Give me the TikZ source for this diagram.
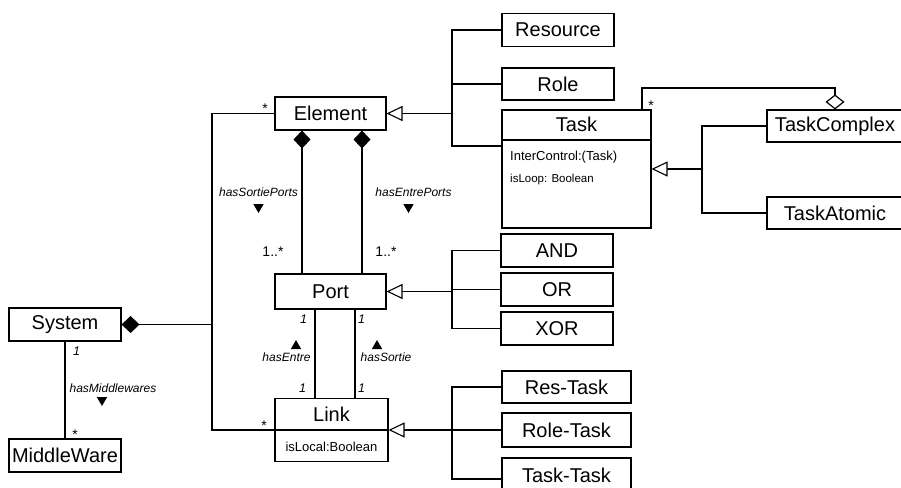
\documentclass[tikz,border=0pt]{standalone}
\usepackage{fontspec}
\setmainfont{Liberation Sans}
\usetikzlibrary{arrows.meta,shapes.geometric,calc}
\newcommand\ftitle{\fontsize{20}{24}\selectfont}
\begin{document}
\begin{tikzpicture}[x=1pt,y=-1pt,
  box/.style={draw, line width=1.1pt, inner sep=0pt, font=\ftitle, minimum height=33pt},
  txt/.style={inner sep=0pt, font=\ftitle},
  conn/.style={line width=1.8pt},
  gen/.style={conn, -{Triangle[length=16pt, width=15pt, line width=1.1pt, fill=white]}},
  comp/.style={conn, {Diamond[length=18pt, width=17pt]}-},
  agg/.style={conn, -{Diamond[length=15pt, width=19pt, line width=1.2pt, fill=white]}},
  lbl/.style={font=\fontsize{12}{14}\selectfont\itshape, inner sep=0pt},
  mult/.style={font=\fontsize{14}{16}\selectfont, inner sep=0pt},
  multi/.style={font=\fontsize{12.5}{14}\selectfont\itshape, inner sep=0pt},
  attr/.style={inner sep=0pt, font=\fontsize{13}{15}\selectfont},
  down/.style={regular polygon, regular polygon sides=3, shape border rotate=180, fill=black, inner sep=0pt, minimum size=12pt},
  up/.style={regular polygon, regular polygon sides=3, fill=black, inner sep=0pt, minimum size=12pt},
]
\clip (0,0) rectangle (901,487);
\fill[white] (0,0) rectangle (901,487);

% boxes
\node[box, minimum width=111pt] (element) at (330.5,113.5) {Element};
\node[box, minimum width=112pt] (res) at (558,30) {Resource};
\node[box, minimum width=112pt, minimum height=32pt] (role) at (558,84) {Role};
\node[box, minimum width=149pt, minimum height=118pt] (task) at (576.5,169) {};
\node[txt] (tasktitle) at (576.5,124) {Task};
\node[attr, anchor=west] (taskattr1) at (510,157) {InterControl:(Task)};
\node[attr, anchor=west, font=\fontsize{11.5}{13}\selectfont] (taskattr2) at (510,180) {isLoop: Boolean};
\node[box, minimum width=136pt, minimum height=32pt] (tc) at (835,126) {TaskComplex};
\node[box, minimum width=136pt, minimum height=32pt] (ta) at (835,213) {TaskAtomic};
\node[box, minimum width=111pt, minimum height=35pt] (port) at (330.5,291.5) {Port};
\node[box, minimum width=112pt] (and) at (557,250.5) {AND};
\node[box, minimum width=112pt] (or) at (557,289.5) {OR};
\node[box, minimum width=112pt] (xor) at (557,328.5) {XOR};
\node[box, minimum width=129pt, minimum height=32pt] (rst) at (566.5,387) {Res-Task};
\node[box, minimum width=129pt, minimum height=34pt] (rlt) at (566.5,430) {Role-Task};
\node[box, minimum width=129pt, minimum height=40pt, text depth=0pt] (ttb) at (566.5,478) {};
\node[txt] (tt) at (566.5,475) {Task-Task};
\node[box, minimum width=113pt, minimum height=63pt] (link) at (331.5,430) {};
\node[txt] (linktitle) at (331.5,414) {Link};
\node[attr] (linkattr) at (331.5,447) {isLocal:Boolean};
\node[box, minimum width=112pt] (system) at (65,324.5) {System};
\node[box, minimum width=112pt] (mw) at (65,455.5) {MiddleWare};

% compartments
\coordinate (tasksep) at (0,140);
\draw[line width=1.1pt] (task.west |- tasksep) -- (task.east |- tasksep);
\draw[line width=1.1pt] (link.west) -- (link.east);

% generalisation Element
\coordinate (trA) at (452,113.5);
\coordinate (taskin) at (502,146);
\draw[conn] (res.west) -| (trA);
\draw[conn] (role.west) -- (role.west -| trA);
\draw[conn] (taskin) -| (trA);
\draw[gen] (trA) -- (element.east);

% aggregation Task - TaskComplex
\coordinate (aggtop) at (642,88);
\draw[agg] (task.north -| aggtop) |- (tc.north |- aggtop) -- (tc.north);
\node[mult] (mtask) at (651,106) {*};

% generalisation Task
\coordinate (trB) at (702,169);
\draw[conn] (tc.west) -| (trB);
\draw[conn] (ta.west) -| (trB);
\draw[gen] (trB) -- (task.east);

% generalisation Port
\coordinate (trC) at (452,291.5);
\draw[conn] (and.west) -| (trC);
\draw[conn] (xor.west) -| (trC);
\draw[conn] (or.west) -- (or.west -| trC);
\draw[gen] (trC) -- (port.east);

% generalisation Link
\coordinate (trD) at (452,430);
\coordinate (ttin) at (502,479);
\draw[conn] (rst.west) -| (trD);
\draw[conn] (ttin) -| (trD);
\draw[conn] (rlt.west) -- (trD);
\draw[gen] (trD) -- (link.east);

% System trunk
\coordinate (trE) at (212,324.5);
\draw[conn] (element.west) -| (trE) |- (link.west);
\draw[comp] (system.east) -- (trE);
\node[mult] (melem) at (265,109) {*};
\node[mult] (mlink) at (264,426) {*};

% System - MiddleWare
\draw[conn] (system.south) -- (mw.north);
\node[multi] (ms1) at (76.5,351) {1};
\node[mult] (mmw) at (75,435) {*};
\node[lbl] (lmw) at (113,388) {hasMiddlewares};
\node[down] (dmw) at (102,400) {};

% Element - Port compositions
\coordinate (c1) at (302,0);
\coordinate (c2) at (362,0);
\draw[comp] (element.south -| c1) -- (port.north -| c1);
\draw[comp] (element.south -| c2) -- (port.north -| c2);
\node[lbl] (lsp) at (258.5,192) {hasSortiePorts};
\node[down] (dsp) at (258.5,207) {};
\node[lbl] (lep) at (413.5,192) {hasEntrePorts};
\node[down] (dep) at (408.5,207) {};
\node[mult] (m1) at (273,252) {1..*};
\node[mult] (m2) at (386,252) {1..*};

% Port - Link
\coordinate (p1) at (315,0);
\coordinate (p2) at (355,0);
\draw[conn] (port.south -| p1) -- (link.north -| p1);
\draw[conn] (port.south -| p2) -- (link.north -| p2);
\node[multi] (pl1) at (303.5,319.5) {1};
\node[multi] (pl2) at (361.5,319.5) {1};
\node[multi] (pl3) at (302.5,388.5) {1};
\node[multi] (pl4) at (361.5,388.5) {1};
\node[up] (ue) at (296,346) {};
\node[lbl] (le) at (286.5,357) {hasEntre};
\node[up] (us) at (377,346) {};
\node[lbl] (ls) at (386,357) {hasSortie};
\end{tikzpicture}
\end{document}
